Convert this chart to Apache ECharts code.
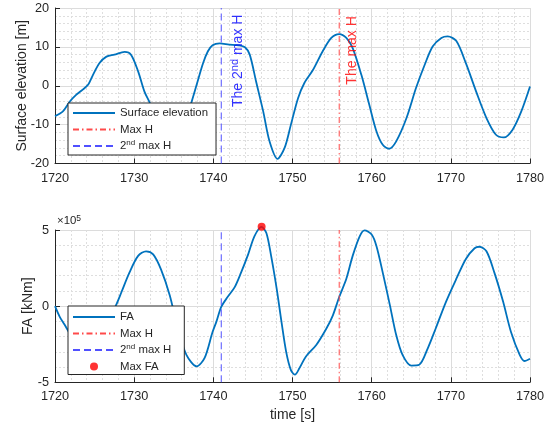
<!DOCTYPE html>
<html>
<head>
<meta charset="utf-8">
<script src="https://cdn.jsdelivr.net/npm/echarts@6/dist/echarts.min.js"></script>
<style>
html,body{margin:0;padding:0;background:#fff;}
#main{width:554px;height:427px;}
</style>
</head>
<body>
<div id="main"></div>
<script>
// surface elevation [m]
var timeTop = [1720,1721,1721.9,1722.7,1723.5,1724.2,1724.8,1725.6,1726.5,1727.5,1728.8,1729.6,1730.5,1731.3,1732,1732.7,1733.5,1734.6,1735.7,1736.5,1737.2,1737.9,1738.7,1739.3,1739.9,1740.8,1742,1743.2,1744,1744.6,1745.4,1746.3,1747.1,1748.1,1749,1749.8,1750.7,1751.5,1752.6,1753.8,1754.9,1755.9,1756.8,1757.6,1758.7,1759.7,1760.6,1761.4,1762.2,1763.1,1764.4,1765.6,1766.7,1767.7,1768.8,1769.6,1770.7,1771.9,1773.2,1774.5,1775.7,1776.7,1777.8,1778.9,1780];
var elevation = [-7.8,-6.6,-4.0,-2.3,-1.0,0.3,2.8,5.8,7.5,8.0,8.7,8.0,3.7,-1.5,-4.5,-8.5,-12.0,-13.8,-12.0,-8.5,-4.5,0.3,5.8,8.8,10.4,10.9,10.6,10.4,9.9,8.0,1.1,-6.6,-14.3,-18.8,-16.0,-10.0,-3.2,0.7,4.1,8.8,12.3,13.3,12.3,9.7,2.8,-4.9,-11.7,-15.2,-16.2,-14.3,-8.3,-0.6,5.4,10.1,12.3,12.7,11.5,5.8,-1.5,-8.3,-12.6,-13.3,-11.3,-6.6,-0.2];

// FA moment [x1e5 kNm]
var timeBottom = [1720,1720.6,1721.2,1722,1723,1724,1725,1726,1727,1727.8,1728.4,1729.4,1730.5,1731.5,1732.4,1733.4,1734.5,1735.5,1736.6,1737.9,1738.9,1739.9,1740.4,1741,1741.8,1742.7,1743.5,1744.4,1745.2,1746.1,1746.7,1747.3,1748,1748.6,1749.2,1749.8,1750.3,1750.9,1751.7,1753,1754.3,1755.1,1755.9,1756.8,1757.6,1758.5,1759.1,1760,1760.6,1761.4,1762.3,1763.1,1763.9,1765,1766,1767.1,1768.1,1769.4,1770.7,1771.9,1773,1773.6,1774.5,1775.5,1776.6,1777.6,1778.7,1779.3,1780];
var fa = [0,-0.7,-1.2,-1.9,-2.5,-2.7,-2.4,-1.7,-0.7,0.17,0.93,2.2,3.3,3.6,3.4,2.4,0.7,-1.45,-3.2,-3.95,-3.4,-1.7,-1.0,-0.05,0.6,1.25,2.2,3.4,4.6,5.2,4.8,3.3,1.15,-1.0,-3.0,-4.2,-4.5,-4.05,-3.3,-2.55,-1.45,-0.6,0.6,1.8,3.3,4.6,4.97,4.7,3.95,2.2,0.07,-1.9,-3.2,-3.9,-3.85,-2.75,-1.45,0.3,1.8,3.1,3.8,3.9,3.6,2.2,0.3,-1.7,-3.2,-3.6,-3.45];

var maxHTime = 1755.9;
var secondMaxHTime = 1741;
var maxFA = [1746.1, 5.22];
var topRange = [-20, 20];
var bottomRange = [-5, 5];
var xTicks = [1720, 1780, 10];

var textColor = '#262626';
var fontFam = 'Liberation Sans, Arial, sans-serif';

function pairs(t, v) {
    var out = [];
    for (var i = 0; i < t.length; i++) {
        out.push([t[i], v[i]]);
    }
    return out;
}

function xAxisOpt(idx, name) {
    return {
        type: 'value', gridIndex: idx,
        min: xTicks[0], max: xTicks[1], interval: xTicks[2],
        name: name, nameLocation: 'middle', nameGap: 26, nameMoveOverlap: false,
        nameTextStyle: {color: textColor, fontSize: 14, fontFamily: fontFam},
        axisLine: {onZero: false, lineStyle: {color: textColor, width: 1}},
        axisTick: {inside: true, length: 5, lineStyle: {color: textColor}},
        axisLabel: {color: textColor, fontSize: 12.7, margin: 8, fontFamily: fontFam,
            formatter: function (v) { return String(v); }},
        splitLine: {show: true, lineStyle: {color: '#dcdcdc', width: 1}},
        minorTick: {show: false, splitNumber: 5},
        minorSplitLine: {show: true, lineStyle: {color: '#dedede', width: 1, type: [2, 2]}}
    };
}

function yAxisOpt(idx, range, interval, name, gap) {
    return {
        type: 'value', gridIndex: idx, position: 'left',
        min: range[0], max: range[1], interval: interval,
        name: name, nameLocation: 'middle', nameGap: gap, nameMoveOverlap: false,
        nameTextStyle: {color: textColor, fontSize: 14, fontFamily: fontFam},
        axisLine: {show: true, onZero: false, lineStyle: {color: textColor, width: 1}},
        axisTick: {show: true, inside: true, length: 5, lineStyle: {color: textColor}},
        axisLabel: {color: textColor, fontSize: 12.7, margin: 6, fontFamily: fontFam},
        splitLine: {show: true, lineStyle: {color: '#dcdcdc', width: 1}},
        minorTick: {show: false, splitNumber: 5},
        minorSplitLine: {show: true, lineStyle: {color: '#dedede', width: 1, type: [2, 2]}}
    };
}

var legendRich = {
    n: {fontSize: 11.4, lineHeight: 14, fontFamily: fontFam, color: textColor},
    s: {fontSize: 8, lineHeight: 14, verticalAlign: 'top', fontFamily: fontFam, color: textColor}
};
function legendFormat(name) {
    if (name == '2nd max H') {
        return '{n|2}{s|nd}{n| max H}';
    }
    return '{n|' + name + '}';
}

// line entries: hide the marker the legend puts in the middle of the line
function lineItem(name) {
    return {name: name, itemStyle: {opacity: 0}};
}

function legendOpt(left, top, data, pad) {
    return {
        orient: 'vertical', left: left, top: top,
        data: data,
        itemWidth: 42, itemHeight: 8, itemGap: 2.5,
        padding: pad,
        backgroundColor: '#fff',
        borderColor: textColor, borderWidth: 1, borderRadius: 0,
        formatter: legendFormat,
        selectedMode: false,
        textStyle: {color: textColor, fontSize: 11.4, fontFamily: fontFam, lineHeight: 14, rich: legendRich}
    };
}

function vline(name, t, range, xi, color, dash) {
    return {
        name: name, type: 'line', xAxisIndex: xi, yAxisIndex: xi,
        data: [[t, range[0]], [t, range[1]]],
        symbol: 'none', silent: true, z: 3,
        itemStyle: {color: color},
        lineStyle: {color: color, width: 1, type: dash}
    };
}

var blue = '#0072BD';
var red = '#ff4a4a';
var dashBlue = '#5050ff';
var dashDot = [6, 3, 1.5, 3];
var dashed = [7, 4];

var myChart = echarts.init(document.getElementById('main'));
var expAxis = yAxisOpt(1, bottomRange, 5, '×10{s|5}', 3);
expAxis.nameLocation = 'end';
expAxis.nameTextStyle = {
    color: textColor, fontSize: 11.4, fontFamily: fontFam, align: 'left', padding: [0, 0, 0, 2],
    rich: {s: {fontSize: 8.5, verticalAlign: 'top', lineHeight: 13, color: textColor, fontFamily: fontFam}}
};
expAxis.axisLine = {show: false};
expAxis.axisTick = {show: false};
expAxis.axisLabel = {show: false};
expAxis.splitLine = {show: false};
expAxis.minorSplitLine = {show: false};

var option = {
    animation: false,
    backgroundColor: '#fff',
    grid: [
        {left: 55, top: 8, width: 475, height: 155.5},
        {left: 55, top: 230, width: 475, height: 152.3}
    ],
    xAxis: [xAxisOpt(0, ''), xAxisOpt(1, 'time [s]')],
    yAxis: [
        yAxisOpt(0, topRange, 10, 'Surface elevation [m]', 26),
        yAxisOpt(1, bottomRange, 5, 'FA [kNm]', 20),
        expAxis
    ],
    legend: [
        legendOpt(68, 103, [lineItem('Surface elevation'), lineItem('Max H'), lineItem('2nd max H')], [3, 8, 2, 4]),
        legendOpt(68, 306, [lineItem('FA'), lineItem('Max H'), lineItem('2nd max H'), 'Max FA'], [4, 13, 1, 4])
    ],
    series: [
        {
            name: 'Surface elevation', type: 'line', xAxisIndex: 0, yAxisIndex: 0,
            data: pairs(timeTop, elevation), symbol: 'none', smooth: 0.3, z: 2,
            itemStyle: {color: blue}, lineStyle: {color: blue, width: 1.8}
        },
        vline('Max H', maxHTime, topRange, 0, red, dashDot),
        vline('2nd max H', secondMaxHTime, topRange, 0, dashBlue, dashed),
        {
            name: 'note', type: 'scatter', xAxisIndex: 0, yAxisIndex: 0,
            symbolSize: 1, silent: true, z: 4,
            itemStyle: {color: 'rgba(0,0,0,0)'},
            data: [
                {
                    value: [1743.1, 18.3],
                    label: {
                        show: true, position: 'inside', rotate: 90, align: 'right', verticalAlign: 'middle',
                        formatter: '{a|The 2}{b|nd}{a| max H}',
                        rich: {
                            a: {fontSize: 14, lineHeight: 16, color: '#0000ff', fontFamily: fontFam},
                            b: {fontSize: 11, lineHeight: 16, verticalAlign: 'top', color: '#0000ff', fontFamily: fontFam}
                        }
                    }
                },
                {
                    value: [1757.55, 17.9],
                    label: {
                        show: true, position: 'inside', rotate: 90, align: 'right', verticalAlign: 'middle',
                        formatter: 'The max H', color: '#ff0000', fontSize: 14, fontFamily: fontFam
                    }
                }
            ]
        },
        {
            name: 'FA', type: 'line', xAxisIndex: 1, yAxisIndex: 1,
            data: pairs(timeBottom, fa), symbol: 'none', smooth: 0.3, z: 2, clip: false,
            itemStyle: {color: blue}, lineStyle: {color: blue, width: 1.8}
        },
        vline('Max H', maxHTime, bottomRange, 1, red, dashDot),
        vline('2nd max H', secondMaxHTime, bottomRange, 1, dashBlue, dashed),
        {
            name: 'Max FA', type: 'scatter', xAxisIndex: 1, yAxisIndex: 1,
            data: [maxFA], symbolSize: 8, z: 5, clip: false,
            itemStyle: {color: '#ff0000'}
        }
    ]
};
myChart.setOption(option);
</script>
</body>
</html>
